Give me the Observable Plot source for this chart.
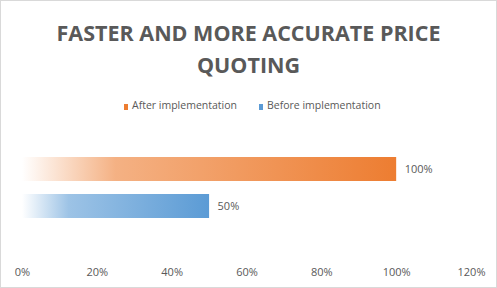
<!DOCTYPE html>
<html>
<head>
<meta charset="utf-8">
<script src="https://cdn.jsdelivr.net/npm/d3@7"></script>
<script src="https://cdn.jsdelivr.net/npm/@observablehq/plot@0.6"></script>
<style>
  html, body { margin: 0; padding: 0; background: #fff; }
  #wrap { position: relative; width: 497px; height: 288px; overflow: hidden; font-family: "Open Sans", sans-serif; color: #595959; }
  #frame { position: absolute; left: 0; top: 0; width: 495px; height: 286px; border: 1px solid #d9d9d9; pointer-events: none; }
  #title { position: absolute; left: 0; top: 17px; width: 497px; text-align: center; font-weight: bold; font-size: 21.5px; line-height: 32px; }
  #legend { position: absolute; left: 0; top: 96px; width: 497px; height: 18px; font-size: 10.5px; }
  .li { position: absolute; top: 0; white-space: nowrap; line-height: 18px; }
  .sw { display: inline-block; width: 4px; height: 6px; margin-right: 4px; vertical-align: -1px; }
  #chart { position: absolute; left: 0; top: 120px; }
</style>
</head>
<body>
<div id="wrap">
  <div id="title">FASTER AND MORE ACCURATE PRICE<br>QUOTING</div>
  <div id="legend"></div>
  <div id="chart"></div>
  <div id="frame"></div>
</div>
<script>
const categories = ["After implementation", "Before implementation"];
const values = [100, 50];
const colors = ["#ED7D31", "#5B9BD5"];
const gradIds = ["gAfter", "gBefore"];
const xTicks = [0, 20, 40, 60, 80, 100, 120];

const data = categories.map((c, i) => ({ category: c, value: values[i], grad: `url(#${gradIds[i]})` }));

// legend
const legend = document.getElementById("legend");
const legendX = [124, 259];
categories.forEach((c, i) => {
  const d = document.createElement("div");
  d.className = "li";
  d.style.left = legendX[i] + "px";
  d.innerHTML = `<span class="sw" style="background:${colors[i]}"></span>${c}`;
  legend.appendChild(d);
});

const plot = Plot.plot({
  width: 497,
  height: 168,
  marginLeft: 22,
  marginRight: 26,
  marginTop: 0,
  marginBottom: 24,
  style: { fontFamily: "Open Sans, sans-serif", fontSize: "11px", color: "#595959", background: "transparent" },
  x: { domain: [0, 120], ticks: xTicks, tickFormat: d => d + "%", label: null },
  y: { domain: categories, range: [30.25, 105.25], paddingInner: 0.36, paddingOuter: 0.18, axis: null, label: null },
  marks: [
    Plot.barX(data, { x: "value", y: "category", fill: "grad" }),
    Plot.text(data, { x: "value", y: "category", text: d => d.value + "%", textAnchor: "start", dx: 8, fill: "#595959", fontSize: 11 }),
    Plot.axisX({ ticks: xTicks, tickFormat: d => d + "%", tickSize: 0, tickPadding: 4, anchor: "bottom", fill: "#595959", label: null })
  ]
});

const svg = d3.select(plot);
const defs = svg.insert("defs", ":first-child");
categories.forEach((c, i) => {
  const g = defs.append("linearGradient").attr("id", gradIds[i]).attr("x1", "0").attr("x2", "1").attr("y1", "0").attr("y2", "0");
  g.append("stop").attr("offset", "0").attr("stop-color", colors[i]).attr("stop-opacity", 0);
  g.append("stop").attr("offset", "0.25").attr("stop-color", colors[i]).attr("stop-opacity", 0.6);
  g.append("stop").attr("offset", "1").attr("stop-color", colors[i]).attr("stop-opacity", 1);
});
document.getElementById("chart").appendChild(plot);
</script>
</body>
</html>
